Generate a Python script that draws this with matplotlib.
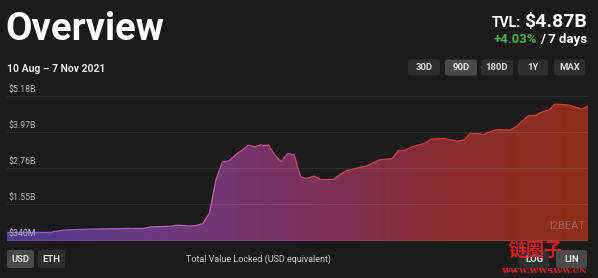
import numpy as np
import matplotlib
matplotlib.use("Agg")
import matplotlib.pyplot as plt
from matplotlib.collections import LineCollection
from matplotlib.colors import LinearSegmentedColormap
from matplotlib.patches import FancyBboxPatch

plt.rcParams['font.family'] = ['Roboto', 'DejaVu Sans']

# TVL over 90 days (10 Aug - 7 Nov 2021), day index -> billions USD
days = [0, 7, 9, 12, 14, 19, 21, 22, 25, 26, 28, 29, 30, 31, 32, 33, 34, 35,
        36, 37, 38, 39, 40, 41, 42, 43, 44, 45, 46, 47, 48, 50, 52, 54, 55,
        57, 59, 60, 61, 62, 64, 65, 67, 69, 70, 71, 72, 73, 74, 75, 77, 78,
        80, 81, 82, 83, 84, 86, 88, 89]
tvl = [0.62, 0.62, 0.68, 0.70, 0.71, 0.73, 0.73, 0.78, 0.80, 0.84, 0.81, 0.83,
       0.89, 1.24, 2.36, 2.97, 3.00, 3.20, 3.36, 3.53, 3.47, 3.55, 3.55, 3.20,
       2.97, 3.25, 3.20, 2.45, 2.41, 2.49, 2.39, 2.39, 2.67, 2.78, 2.82, 3.03,
       3.08, 3.36, 3.36, 3.47, 3.59, 3.73, 3.75, 3.66, 3.70, 3.93, 3.93, 3.88,
       3.98, 4.05, 4.03, 4.15, 4.54, 4.54, 4.65, 4.71, 4.91, 4.88, 4.74, 4.84]
tick_vals = [0.34, 1.55, 2.76, 3.97, 5.18]
tick_labels = ["$340M", "$1.55B", "$2.76B", "$3.97B", "$5.18B"]
ranges = ["30D", "90D", "180D", "1Y", "MAX"]

W, H = 598, 278
bg = "#1b1b1b"
fig = plt.figure(figsize=(W / 100, H / 100), dpi=100, facecolor=bg)

# axes placed in pixel coordinates: x 7..588, y 88..241 (from top)
ax = fig.add_axes([7 / W, 1 - 241 / H, 581 / W, 153 / H])
ax.set_facecolor(bg)
x = np.array(days, dtype=float)
y = np.array(tvl)
ymin, ymax = 0.306, 5.45
ax.set_xlim(0, 89)
ax.set_ylim(ymin, ymax)

fill_cmap = LinearSegmentedColormap.from_list(
    "fill", ["#4f3a8e", "#6c3a82", "#7a335e", "#872c34", "#8e2e18"])
line_cmap = LinearSegmentedColormap.from_list(
    "line", ["#8a5ccc", "#b866b8", "#cc4c6c", "#d8403a", "#dc4228"])

grad = np.linspace(0, 1, 256).reshape(1, -1)
im = ax.imshow(grad, cmap=fill_cmap, aspect="auto", extent=[0, 89, ymin, ymax],
               origin="lower", zorder=1)
poly = ax.fill_between(x, ymin, y, color="none", lw=0)
im.set_clip_path(poly.get_paths()[0], transform=ax.transData)

pts = np.column_stack([x, y]).reshape(-1, 1, 2)
segs = np.concatenate([pts[:-1], pts[1:]], axis=1)
lc = LineCollection(segs, cmap=line_cmap, linewidths=0.9, zorder=3)
lc.set_array((x[:-1] + x[1:]) / 2 / 89)
ax.add_collection(lc)

for v, lab in zip(tick_vals, tick_labels):
    ax.axhline(v, color="#ffffff", alpha=0.09, lw=0.8, zorder=2)
    ax.text(1 / 581 * 89, v + 0.06, lab, color="#b8b8b8", fontsize=6.3,
            va="bottom", ha="left", zorder=4)

for s in ax.spines.values():
    s.set_visible(False)
ax.set_xticks([])
ax.set_yticks([])

ax.text(0.995, 0.1, "l2BEAT", transform=ax.transAxes, ha="right", va="center",
        color="#e0a0a8", alpha=0.45, fontsize=8, zorder=5)


def px(xp, yp):
    return xp / W, 1 - yp / H


# header texts
fig.text(*px(5, 29), "Overview", color="white", fontsize=27.5,
         fontweight="bold", va="center", ha="left")
fig.text(*px(7, 69), "10 Aug \u2013 7 Nov 2021", color="#e8e8e8", fontsize=7.5,
         fontweight="bold", va="center", ha="left")
tvl_val = fig.text(*px(587, 27), "$4.87B", color="white", fontsize=14,
                   fontweight="bold", va="baseline", ha="right")
days_txt = fig.text(*px(587, 43), "/ 7 days", color="white", fontsize=9.5,
                    fontweight="bold", va="baseline", ha="right")

# place the left-hand parts right next to the measured right-hand parts
fig.canvas.draw()
r = fig.canvas.get_renderer()
bb = tvl_val.get_window_extent(r)
fig.text((bb.x0 - 3) / W, tvl_val.get_position()[1], "TVL:", color="white",
         fontsize=10, fontweight="bold", va="baseline", ha="right")
bb2 = days_txt.get_window_extent(r)
fig.text((bb2.x0 - 3) / W, days_txt.get_position()[1], "+4.03%",
         color="#4caf50", fontsize=9.5, fontweight="bold", va="baseline",
         ha="right")


def button(x0, x1, yc, label, active, h=16):
    w, hh = (x1 - x0) / W, h / H
    fc = "#4a4a4a" if active else "#2e2e2e"
    fig.patches.append(FancyBboxPatch((x0 / W, 1 - yc / H - hh / 2), w, hh,
                                      boxstyle="round,pad=0,rounding_size=0.006",
                                      transform=fig.transFigure, fc=fc, ec="none"))
    fig.text((x0 + x1) / 2 / W, 1 - yc / H, label, color="#e0e0e0",
             fontsize=6.8, fontweight="bold", ha="center", va="center")


btn_x = [(408, 440), (445, 477), (481, 513), (518, 548), (554, 585)]
for (a, b), lab in zip(btn_x, ranges):
    button(a, b, 67.5, lab, lab == "90D")

button(7, 34, 259, "USD", True, 18)
button(38, 65, 259, "ETH", False, 18)
button(519, 549, 259, "LOG", False, 18)
button(556, 587, 259, "LIN", True, 18)

fig.text(258 / W, 1 - 259 / H, "Total Value Locked (USD equivalent)",
         color="#cfcfcf", fontsize=6.5, ha="center", va="center")

# watermark
fig.text(536 / W, 1 - 250 / H, "链圈子", color="#e02020", fontsize=13,
         fontweight="bold", ha="center", va="center",
         family=["Noto Sans CJK SC", "DejaVu Sans"])
fig.text(544 / W, 1 - 271 / H, "WWW.WWSWW.CN", color="#e02020", fontsize=5.8,
         fontweight="bold", ha="center", va="center", family="DejaVu Serif")

fig.savefig("out.png", dpi=100, facecolor=bg)
